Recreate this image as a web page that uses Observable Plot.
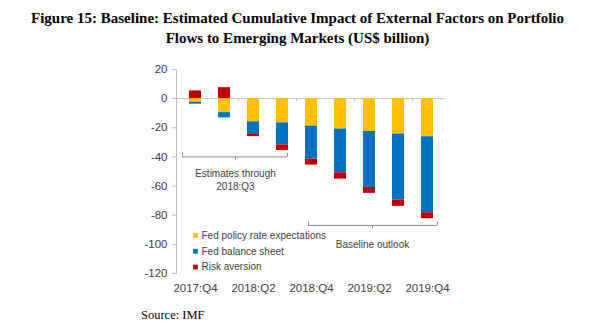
<!DOCTYPE html>
<html><head><meta charset="utf-8">
<script src="https://cdn.jsdelivr.net/npm/d3@7"></script>
<script src="https://cdn.jsdelivr.net/npm/@observablehq/plot@0.6"></script>
<style>
body{margin:0;background:#fff;width:595px;height:336px;position:relative;overflow:hidden}
#title{position:absolute;left:0;top:9px;width:595px;text-align:center;font-family:"Liberation Serif","Times New Roman",serif;font-weight:bold;font-size:15px;line-height:19.5px;color:#000}
#chart{position:absolute;left:0;top:55px}
#source{position:absolute;left:141px;top:308px;font-family:"Liberation Serif","Times New Roman",serif;font-size:12.5px;color:#000}
</style></head>
<body>
<div id="title">Figure 15: Baseline: Estimated Cumulative Impact of External Factors on Portfolio<br>Flows to Emerging Markets (US$ billion)</div>
<div id="chart"></div>
<div id="source">Source: IMF</div>
<script>
const quarters = ["2017:Q4","2018:Q1","2018:Q2","2018:Q3","2018:Q4","2019:Q1","2019:Q2","2019:Q3","2019:Q4"];
const fedPolicy = [-2.5, -9.6, -15.9, -16.6, -18.9, -20.9, -22.5, -24.3, -26.2];
const fedBalance = [-1.3, -3.6, -8.2, -15.1, -22.6, -30.0, -38.4, -45.3, -52.1];
const riskAversion = [5.3, 7.5, -2.0, -3.9, -4.1, -4.3, -4.1, -4.3, -4.1];
const seriesNames = ["Fed policy rate expectations","Fed balance sheet","Risk aversion"];
const seriesColors = ["#FFC000","#0070C0","#C00000"];
const yTicks = [20, 0, -20, -40, -60, -80, -100, -120];
const xTickLabels = ["2017:Q4","2018:Q2","2018:Q4","2019:Q2","2019:Q4"];
const brackets = [
  {from: "2017:Q4", to: "2018:Q3", mid: "2018:Q1", y: -40, label: "Estimates through\n2018:Q3"},
  {from: "2018:Q4", to: "2019:Q4", mid: "2019:Q2", y: -87, label: "Baseline outlook"}
];

const rows = [];
const seriesValues = [fedPolicy, fedBalance, riskAversion];
quarters.forEach((q, i) => {
  seriesValues.forEach((arr, j) => rows.push({quarter: q, series: seriesNames[j], value: arr[i]}));
});

const axisGray = "#bfbfbf";
const bracketGray = "#8c8c8c";
const textColor = "#404040";

function bracketMarks(b, o) {
  return [
    Plot.ruleY([b], {y: "y", x1: "from", x2: "to", insetLeft: o.insetLeft, insetRight: o.insetRight, stroke: bracketGray}),
    Plot.ruleX([b], {x: "from", y1: d => d.y, y2: d => d.y + 2.5, dx: o.startDx, stroke: bracketGray}),
    Plot.ruleX([b], {x: "to", y1: d => d.y, y2: d => d.y + 2.5, dx: o.endDx, stroke: bracketGray}),
    Plot.ruleX([b], {x: "mid", y1: d => d.y, y2: d => d.y - 2.2, dx: o.midDx, stroke: bracketGray}),
    Plot.text([b], {x: "mid", y: "y", text: "label", dx: o.midDx, dy: o.textDy, fontSize: 10, lineHeight: 1.34, fill: textColor})
  ];
}

const legendMarks = seriesNames.flatMap((s, i) => [
  Plot.dot([s], {frameAnchor: "bottom-left", dx: 19, dy: -38 + i * 15.8, symbol: "square", r: 2.7, fill: d => d}),
  Plot.text([s], {frameAnchor: "bottom-left", dx: 25, dy: -38 + i * 15.8, text: d => d, textAnchor: "start", lineAnchor: "middle", fontSize: 10, fill: textColor})
]);

const chart = Plot.plot({
  width: 595,
  height: 250,
  marginLeft: 176,
  marginRight: 150,
  marginTop: 14,
  marginBottom: 32,
  style: {fontFamily: '"Liberation Sans", Arial, sans-serif', color: textColor, background: "#fff", overflow: "visible"},
  x: {domain: quarters, paddingInner: 0.6, paddingOuter: 0.3, label: null},
  y: {domain: [-120, 20], label: null},
  color: {domain: seriesNames, range: seriesColors},
  marks: [
    Plot.ruleY([0], {stroke: axisGray}),
    Plot.ruleX(xTickLabels.slice(1), {x: d => d, y1: 0, y2: -2, dx: -15, stroke: axisGray}),
    Plot.barY(rows, Plot.stackY({x: "quarter", y: "value", fill: "series"})),
    Plot.frame({anchor: "left", stroke: axisGray}),
    Plot.axisY({ticks: yTicks, tickSize: 4, tickPadding: 5, tickFormat: d => String(d), fontSize: 11.5, stroke: axisGray, fill: textColor, label: null}),
    Plot.axisX({ticks: xTickLabels, tickSize: 0, tickPadding: 10, fontSize: 11.5, fill: textColor, label: null}),
    ...bracketMarks(brackets[0], {insetLeft: -7, insetRight: 1, startDx: -13, endDx: 5, midDx: 11, textDy: 22}),
    ...bracketMarks(brackets[1], {insetLeft: 3, insetRight: -4, startDx: -3, endDx: 10, midDx: 3, textDy: 18}),
    ...legendMarks
  ]
});
document.getElementById("chart").appendChild(chart);
</script>
</body></html>
